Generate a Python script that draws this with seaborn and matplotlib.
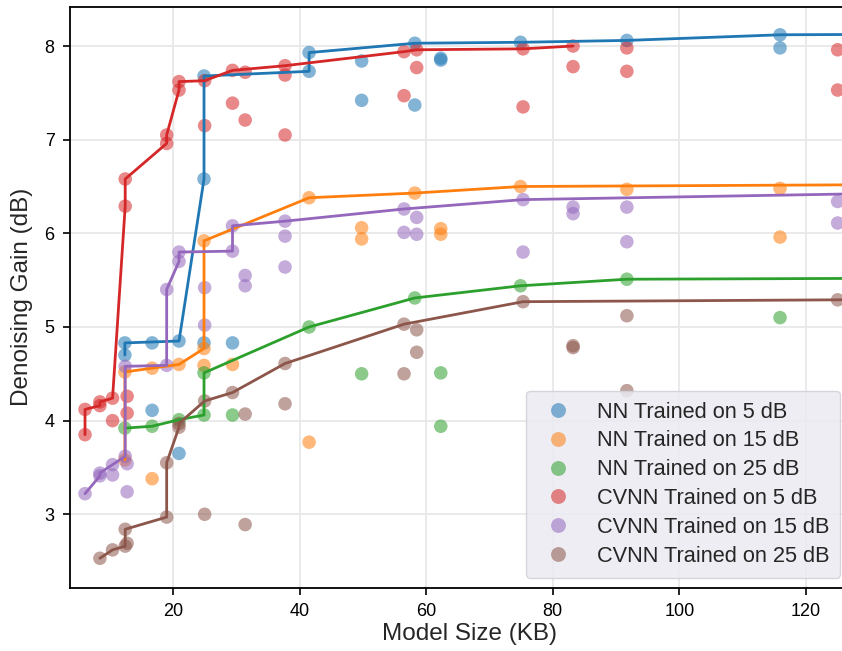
import numpy as np
import pandas as pd
import matplotlib
matplotlib.use("Agg")
import matplotlib.pyplot as plt
import seaborn as sns

# ---------------- data ----------------
series_names = ["NN Trained on 5 dB", "NN Trained on 15 dB", "NN Trained on 25 dB",
                "CVNN Trained on 5 dB", "CVNN Trained on 15 dB", "CVNN Trained on 25 dB"]
series_colors = ["#1f77b4", "#ff7f0e", "#2ca02c", "#d62728", "#9467bd", "#8c564b"]

nn5_x = [12.4, 12.4, 16.7, 16.7, 20.95, 20.95, 24.9, 24.9, 24.9, 29.4, 41.5, 41.5,
         49.8, 49.8, 58.2, 58.2, 62.3, 62.3, 74.9, 91.7, 115.9, 115.9, 133.0]
nn5_y = [4.70, 4.83, 4.83, 4.11, 4.85, 3.65, 4.83, 6.58, 7.68, 4.83, 7.73, 7.93,
         7.84, 7.42, 8.03, 7.37, 7.87, 7.85, 8.04, 8.06, 8.12, 7.98, 8.125]

nn15_x = [12.4, 12.4, 16.7, 16.7, 20.95, 24.9, 24.9, 24.9, 29.4, 41.5, 41.5,
          49.8, 49.8, 58.2, 62.3, 62.3, 74.9, 91.7, 115.9, 115.9, 133.0]
nn15_y = [3.58, 4.52, 4.56, 3.38, 4.60, 4.59, 4.77, 5.92, 4.60, 6.38, 3.77,
          6.06, 5.94, 6.43, 6.05, 5.99, 6.50, 6.47, 6.48, 5.96, 6.52]

nn25_x = [12.4, 16.7, 20.95, 24.9, 24.9, 29.4, 41.5, 49.8, 58.2, 62.3, 62.3,
          74.9, 91.7, 115.9, 133.0]
nn25_y = [3.92, 3.94, 4.01, 4.06, 4.51, 4.06, 5.00, 4.50, 5.31, 4.51, 3.94,
          5.44, 5.51, 5.10, 5.52]

cv5_x = [6.1, 6.1, 8.45, 8.45, 10.45, 10.45, 12.45, 12.45, 12.75, 12.75, 19.0, 19.0,
         20.95, 20.95, 25.0, 25.0, 29.4, 29.4, 31.4, 31.4, 37.7, 37.7, 37.7,
         56.5, 56.5, 58.5, 58.5, 75.3, 75.3, 83.2, 83.2, 91.7, 91.7, 125.0, 125.0]
cv5_y = [3.85, 4.12, 4.20, 4.16, 4.24, 4.00, 6.29, 6.58, 4.26, 4.08, 6.96, 7.05,
         7.53, 7.62, 7.63, 7.15, 7.74, 7.39, 7.72, 7.21, 7.79, 7.69, 7.05,
         7.94, 7.47, 7.96, 7.77, 7.97, 7.35, 8.00, 7.78, 7.98, 7.73, 7.96, 7.53]

cv15_x = [6.1, 8.45, 8.45, 10.45, 10.45, 12.45, 12.45, 12.75, 12.75, 19.0, 19.0,
          20.95, 20.95, 25.0, 25.0, 29.4, 29.4, 31.4, 31.4, 37.7, 37.7, 37.7,
          56.5, 56.5, 58.5, 58.5, 75.3, 75.3, 83.2, 83.2, 91.7, 91.7, 125.0, 125.0, 135.0]
cv15_y = [3.22, 3.44, 3.41, 3.53, 3.42, 3.62, 4.58, 3.54, 3.24, 4.59, 5.40,
          5.70, 5.80, 5.42, 5.02, 5.81, 6.08, 5.55, 5.44, 6.13, 5.97, 5.64,
          6.26, 6.01, 6.17, 5.99, 6.36, 5.80, 6.28, 6.21, 6.28, 5.91, 6.34, 6.11, 6.43]

cv25_x = [8.45, 10.45, 12.45, 12.45, 12.75, 19.0, 19.0, 20.95, 20.95, 25.0, 25.0,
          29.4, 31.4, 31.4, 37.7, 37.7, 56.5, 56.5, 58.5, 58.5, 75.3, 83.2, 83.2,
          91.7, 91.7, 125.0, 135.0]
cv25_y = [2.53, 2.62, 2.66, 2.84, 2.69, 2.97, 3.55, 3.97, 3.93, 4.21, 3.00,
          4.30, 4.07, 2.89, 4.61, 4.18, 5.03, 4.50, 4.97, 4.73, 5.27, 4.80, 4.78,
          5.12, 4.32, 5.29, 5.30]

all_x = [nn5_x, nn15_x, nn25_x, cv5_x, cv15_x, cv25_x]
all_y = [nn5_y, nn15_y, nn25_y, cv5_y, cv15_y, cv25_y]

x_ticks = [20, 40, 60, 80, 100, 120]
y_ticks = [3, 4, 5, 6, 7, 8]


def pareto_front(xs, ys):
    order = sorted(range(len(xs)), key=lambda i: (xs[i], ys[i]))
    fx, fy, best = [], [], -np.inf
    for i in order:
        if ys[i] > best:
            fx.append(xs[i]); fy.append(ys[i]); best = ys[i]
    return fx, fy


pts = pd.concat([pd.DataFrame({"size": xs, "gain": ys, "series": name})
                 for xs, ys, name in zip(all_x, all_y, series_names)], ignore_index=True)
fronts = []
for xs, ys, name in zip(all_x, all_y, series_names):
    fx, fy = pareto_front(xs, ys)
    fronts.append(pd.DataFrame({"size": fx, "gain": fy, "series": name}))
front_df = pd.concat(fronts, ignore_index=True)

# ---------------- style ----------------
sns.set_style("ticks")
plt.rcParams["font.family"] = ["Liberation Sans", "DejaVu Sans"]

W, H = 842, 651
fig = plt.figure(figsize=(W / 100, H / 100), dpi=100)
x0_px, px_per_unit = 46.4, 6.33
xlim = (3.7, 130.0)
left_px = x0_px + xlim[0] * px_per_unit
right_px = x0_px + xlim[1] * px_per_unit
top_px, bottom_px = 6.7, 587.7
ax = fig.add_axes([left_px / W, 1 - bottom_px / H, (right_px - left_px) / W, (bottom_px - top_px) / H])

palette = dict(zip(series_names, series_colors))

sns.scatterplot(data=pts, x="size", y="gain", hue="series", hue_order=series_names,
                palette=palette, s=95, alpha=0.55, linewidth=0, ax=ax, zorder=3)
for name in series_names:
    d = front_df[front_df["series"] == name]
    sns.lineplot(data=d, x="size", y="gain", sort=False, estimator=None,
                 color=palette[name], linewidth=2.0, ax=ax, legend=False, zorder=4)

ax.set_xlim(*xlim)
ax.set_ylim(2.216, 8.42)
ax.set_xticks(x_ticks)
ax.set_yticks(y_ticks)
ax.grid(True, color="#E8E8E8", linewidth=1.3)
ax.set_axisbelow(True)
for s in ax.spines.values():
    s.set_color("black")
    s.set_linewidth(1.3)
ax.tick_params(axis="both", labelsize=13, length=5, width=1.2, pad=6, colors="black")
ax.set_xlabel("Model Size (KB)", fontsize=17.5, labelpad=2)
ax.set_ylabel("Denoising Gain (dB)", fontsize=17.5, labelpad=8)

handles, labels = ax.get_legend_handles_labels()
leg = ax.legend(handles, labels, loc="lower right",
                bbox_to_anchor=(840 / W, 1 - 577.7 / H), bbox_transform=fig.transFigure,
                borderaxespad=0, fontsize=15.7, frameon=True, fancybox=True,
                facecolor="#EAEAF2", edgecolor="#D0D0D8", framealpha=0.85,
                labelspacing=0.36, handletextpad=0.75, borderpad=0.5, markerscale=1.1)

fig.savefig("out.png", dpi=100)
